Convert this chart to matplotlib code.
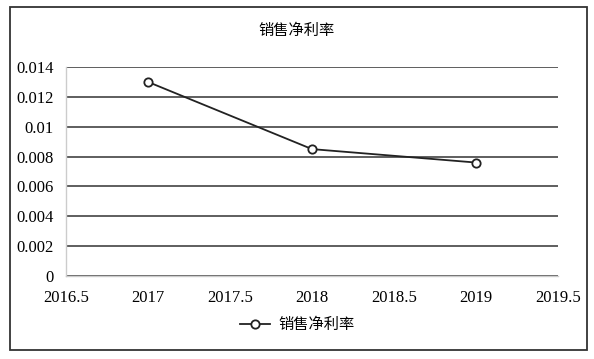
import matplotlib.pyplot as plt
from matplotlib.patches import Rectangle

years = [2017, 2018, 2019]
margin = [0.013, 0.0085, 0.0076]
series_name = '销售净利率'

plt.rcParams['font.family'] = ['Liberation Serif', 'Noto Sans CJK SC']

fig = plt.figure(figsize=(5.94, 3.59), dpi=100)
ax = fig.add_axes([66 / 594, 1 - 276 / 359, 492 / 594, 209 / 359])

ax.plot(years, margin, color='#222222', lw=1.3, marker='o', ms=6,
        markerfacecolor='white', markeredgecolor='#222222', markeredgewidth=1.3,
        label=series_name)

ax.set_xlim(2016.5, 2019.5)
ax.set_ylim(0, 0.014)
ax.set_xticks([2016.5, 2017, 2017.5, 2018, 2018.5, 2019, 2019.5])
ax.set_xticklabels(['2016.5', '2017', '2017.5', '2018', '2018.5', '2019', '2019.5'])
ax.set_yticks([0, 0.002, 0.004, 0.006, 0.008, 0.01, 0.012, 0.014])
ax.set_yticklabels(['0', '0.002', '0.004', '0.006', '0.008', '0.01', '0.012', '0.014'])
ax.tick_params(length=0, labelsize=12, pad=9)
ax.tick_params(axis='x', pad=10)
ax.grid(axis='y', color='#333333', lw=1.1)
ax.set_axisbelow(True)
for s in ['top', 'right']:
    ax.spines[s].set_visible(False)
for s in ['left', 'bottom']:
    ax.spines[s].set_color('#cccccc')
    ax.spines[s].set_linewidth(1.0)

fig.text(0.5, 0.916, series_name, ha='center', va='center', fontsize=11,
         family=['Noto Sans CJK SC'], weight='medium')

leg = fig.legend(loc='center', bbox_to_anchor=(0.5, 0.095), frameon=False,
                 handlelength=2.0, handletextpad=0.5,
                 prop={'family': 'Noto Sans CJK SC', 'size': 11})

fig.patches.append(Rectangle((0.017, 0.025), 0.972, 0.955, transform=fig.transFigure,
                             fill=False, edgecolor='#333333', lw=1.3))

fig.savefig('out.png', dpi=100)
